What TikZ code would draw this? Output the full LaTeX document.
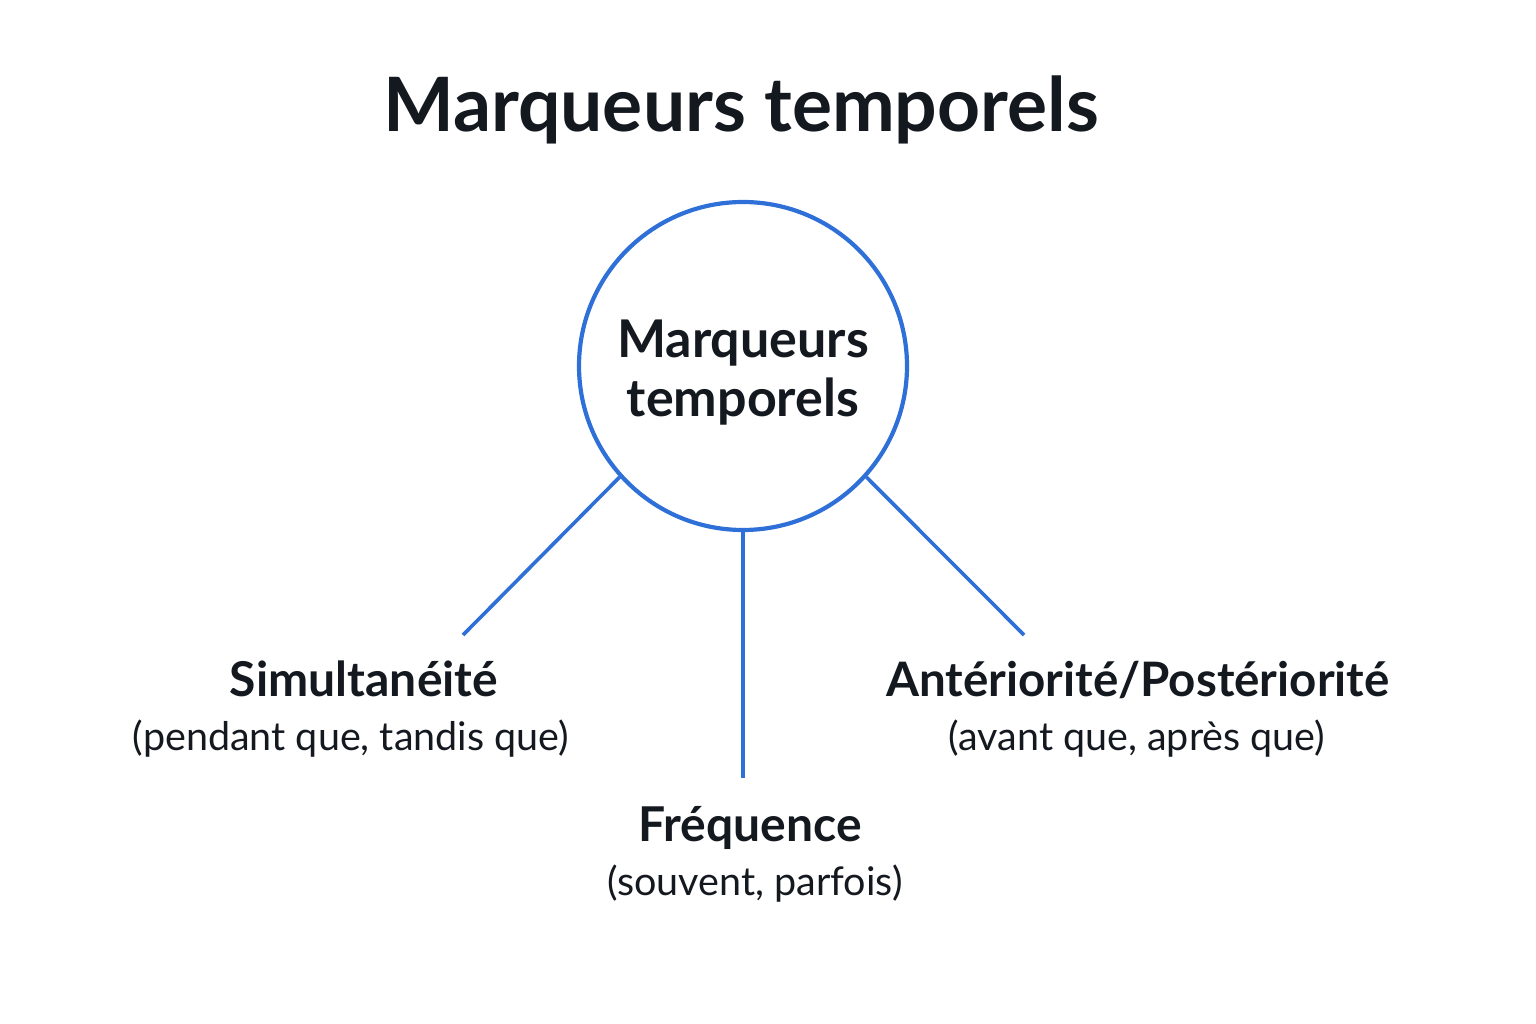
\documentclass[tikz,border=0pt]{standalone}
\usepackage{fontspec}
\setmainfont{Lato}
\definecolor{blu}{HTML}{2F6FD8}
\definecolor{ink}{HTML}{14181F}
\begin{document}
\begin{tikzpicture}[x=1pt,y=-1pt,
  lbl/.style={anchor=base,inner sep=0pt,text=ink},
  conn/.style={draw=blu,line width=3.6pt}]
\useasboundingbox (0,0) rectangle (1536,1024);
\node[lbl,font=\fontsize{75}{80}\selectfont\bfseries] (title) at (741,132) {Marqueurs temporels};
\node[circle,draw=blu,line width=4.2pt,minimum size=328pt,inner sep=0pt] (hub) at (743,366) {};
\node[lbl,font=\fontsize{52}{56}\selectfont\bfseries] (h1) at (743,357) {Marqueurs};
\node[lbl,font=\fontsize{52}{56}\selectfont\bfseries] (h2) at (743,416) {temporels};
\coordinate (lend) at (463,635);
\coordinate (mend) at (743,778);
\coordinate (rend) at (1024,635);
\draw[conn] (hub.222) -- (lend);
\draw[conn] (hub.south) -- (mend);
\draw[conn] (hub.-42) -- (rend);
\node[lbl,font=\fontsize{48}{52}\selectfont\bfseries] (s1) at (364,696) {Simultanéité};
\node[lbl,font=\fontsize{39.5}{42}\selectfont] (s2) at (351,750) {(pendant que, tandis que)};
\node[lbl,font=\fontsize{48}{52}\selectfont\bfseries] (f1) at (750,841) {Fréquence};
\node[lbl,font=\fontsize{39.5}{42}\selectfont] (f2) at (755,895) {(souvent, parfois)};
\node[lbl,font=\fontsize{47.5}{52}\selectfont\bfseries] (a1) at (1138,696) {Antériorité/Postériorité};
\node[lbl,font=\fontsize{39.5}{42}\selectfont] (a2) at (1137,750) {(avant que, après que)};
\end{tikzpicture}
\end{document}
